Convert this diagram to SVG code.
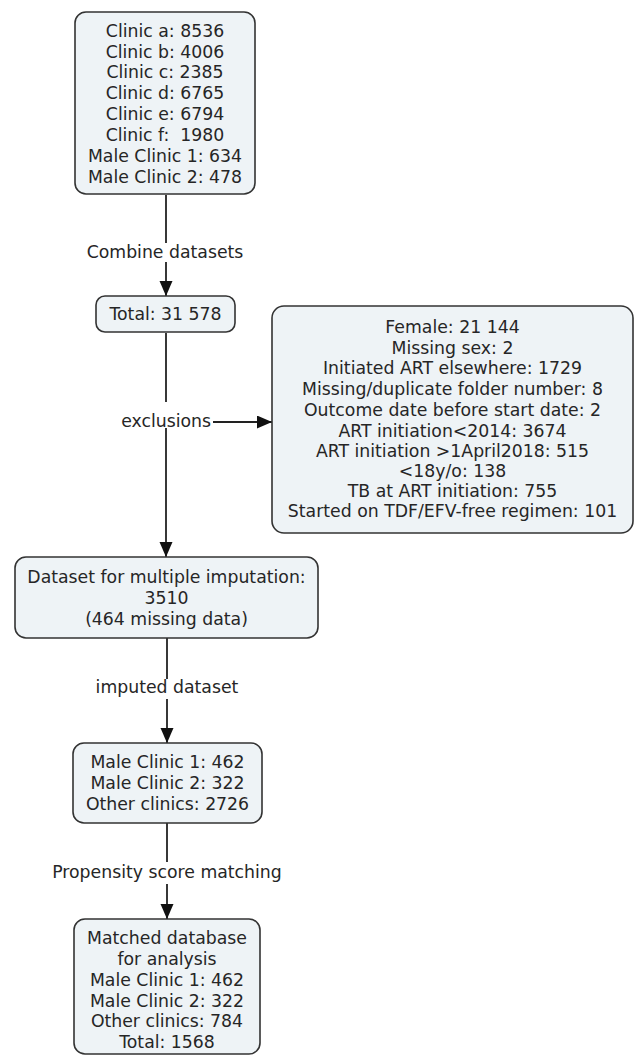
<svg xmlns="http://www.w3.org/2000/svg" width="635" height="1055" viewBox="0 0 635 1055">
<style>
.box{fill:#eef3f6;stroke:#333;stroke-width:1.6}
text{font-family:"DejaVu Sans",Verdana,sans-serif;font-size:17.3px;fill:#262626;text-anchor:middle}
.conn{stroke:#222;stroke-width:1.8;fill:none}
</style>
<defs>
<marker id="ah" markerUnits="userSpaceOnUse" markerWidth="16" markerHeight="14" refX="15" refY="6.5" orient="auto">
<path d="M0,0 L15,6.5 L0,13 z" fill="#111"/>
</marker>
</defs>
<rect width="635" height="1055" fill="#fff"/>
<g id="connectors">
<line class="conn" x1="166" y1="195" x2="166" y2="243"/>
<line class="conn" x1="166" y1="262" x2="166" y2="296" marker-end="url(#ah)"/>
<text x="165" y="258">Combine datasets</text>
<line class="conn" x1="166" y1="333" x2="166" y2="402"/>
<line class="conn" x1="166" y1="428" x2="166" y2="557" marker-end="url(#ah)"/>
<text x="211" y="427" style="text-anchor:end">exclusions</text>
<line class="conn" x1="213" y1="422" x2="272" y2="422" marker-end="url(#ah)"/>
<line class="conn" x1="167" y1="638" x2="167" y2="679"/>
<line class="conn" x1="167" y1="699" x2="167" y2="743" marker-end="url(#ah)"/>
<text x="167" y="693">imputed dataset</text>
<line class="conn" x1="167" y1="823" x2="167" y2="862"/>
<line class="conn" x1="167" y1="884" x2="167" y2="919" marker-end="url(#ah)"/>
<text x="167" y="878">Propensity score matching</text>
</g>
<g id="clinics">
<rect class="box" x="75" y="12" width="180" height="182" rx="11"/>
<text x="165" y="37">Clinic a: 8536</text>
<text x="165" y="58">Clinic b: 4006</text>
<text x="165" y="78">Clinic c: 2385</text>
<text x="165" y="99">Clinic d: 6765</text>
<text x="165" y="120">Clinic e: 6794</text>
<text x="165" y="141" xml:space="preserve">Clinic f:  1980</text>
<text x="165" y="162">Male Clinic 1: 634</text>
<text x="165" y="183">Male Clinic 2: 478</text>
</g>
<g id="total">
<rect class="box" x="96" y="296" width="139" height="36" rx="9"/>
<text x="165.5" y="320">Total: 31 578</text>
</g>
<g id="exclusions">
<rect class="box" x="272" y="306" width="361" height="227" rx="12"/>
<text x="452.5" y="333">Female: 21 144</text>
<text x="452.5" y="353.5">Missing sex: 2</text>
<text x="452.5" y="374">Initiated ART elsewhere: 1729</text>
<text x="452.5" y="395">Missing/duplicate folder number: 8</text>
<text x="452.5" y="416">Outcome date before start date: 2</text>
<text x="452.5" y="437">ART initiation&lt;2014: 3674</text>
<text x="452.5" y="457">ART initiation &gt;1April2018: 515</text>
<text x="452.5" y="477">&lt;18y/o: 138</text>
<text x="452.5" y="497">TB at ART initiation: 755</text>
<text x="452.5" y="517">Started on TDF/EFV-free regimen: 101</text>
</g>
<g id="dataset">
<rect class="box" x="15" y="557" width="303" height="81" rx="11"/>
<text x="166.5" y="583">Dataset for multiple imputation:</text>
<text x="166.5" y="604">3510</text>
<text x="166.5" y="625">(464 missing data)</text>
</g>
<g id="imputed">
<rect class="box" x="73" y="743" width="189" height="80" rx="11"/>
<text x="167.5" y="768">Male Clinic 1: 462</text>
<text x="167.5" y="789">Male Clinic 2: 322</text>
<text x="167.5" y="810">Other clinics: 2726</text>
</g>
<g id="matched">
<rect class="box" x="74" y="919" width="186" height="135" rx="11"/>
<text x="167" y="944">Matched database</text>
<text x="167" y="965">for analysis</text>
<text x="167" y="986">Male Clinic 1: 462</text>
<text x="167" y="1007">Male Clinic 2: 322</text>
<text x="167" y="1027">Other clinics: 784</text>
<text x="167" y="1048">Total: 1568</text>
</g>
</svg>
